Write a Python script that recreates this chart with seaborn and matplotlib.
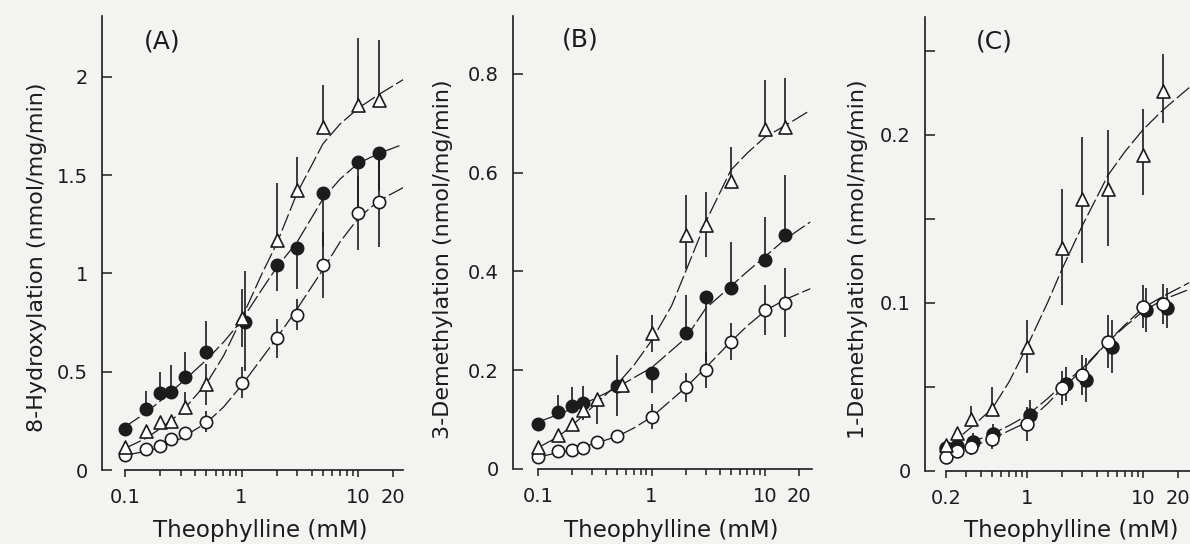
import numpy as np
import pandas as pd
import matplotlib
matplotlib.use("Agg")
import matplotlib.pyplot as plt
from matplotlib.ticker import FixedLocator, NullFormatter
import seaborn as sns

# --- DATA ---
conc = [0.1, 0.15, 0.2, 0.25, 0.33, 0.5, 1, 2, 3, 5, 10, 15]
conc_c = [0.2, 0.25, 0.33, 0.5, 1, 2, 3, 5, 10, 15]

# (A) 8-hydroxylation
a_filled_x = [0.1, 0.15, 0.2, 0.25, 0.33, 0.5, 1.08, 2, 3, 5, 10, 15]
a_filled = [0.207, 0.31, 0.39, 0.395, 0.475, 0.60, 0.754, 1.043, 1.128, 1.411, 1.569, 1.611]
a_filled_up = [0, 0.09, 0.11, 0.14, 0.125, 0.16, 0.26, 0, 0, 0, 0, 0]
a_filled_lo = [0, 0, 0, 0, 0, 0, 0.25, 0.13, 0.205, 0.275, 0.26, 0.19]
a_open = [0.076, 0.105, 0.122, 0.156, 0.186, 0.246, 0.444, 0.67, 0.79, 1.043, 1.307, 1.365]
a_open_err = [0, 0, 0, 0, 0, 0.055, 0.08, 0.1, 0.08, 0.17, 0.19, 0.23]
a_tri = [0.119, 0.198, 0.246, 0.25, 0.322, 0.44, 0.771, 1.17, 1.425, 1.747, 1.857, 1.883]
a_tri_up = [0, 0, 0, 0, 0.076, 0.10, 0.15, 0.29, 0.17, 0.21, 0.34, 0.305]
a_tri_lo = [0, 0, 0, 0, 0, 0.11, 0.145, 0, 0, 0, 0, 0]

# fitted curves
curve_x_ab = [0.1, 0.15, 0.2, 0.3, 0.5, 0.7, 1, 1.5, 2, 3, 5, 7, 10, 15, 25]
a_tri_fit = [0.11, 0.16, 0.21, 0.29, 0.44, 0.58, 0.77, 1.0, 1.15, 1.41, 1.66, 1.76, 1.84, 1.91, 1.99]
a_filled_fit = [0.22, 0.29, 0.35, 0.44, 0.56, 0.65, 0.76, 0.92, 1.03, 1.16, 1.38, 1.48, 1.56, 1.61, 1.66]
a_open_fit = [0.075, 0.095, 0.115, 0.16, 0.24, 0.32, 0.43, 0.57, 0.67, 0.82, 1.02, 1.16, 1.28, 1.37, 1.44]

# (B) 3-demethylation
b_filled_x = [0.1, 0.15, 0.2, 0.25, 0.5, 1, 2, 3, 5, 10, 15]
b_filled = [0.092, 0.116, 0.127, 0.134, 0.168, 0.195, 0.275, 0.349, 0.366, 0.424, 0.474]
b_filled_up = [0, 0.034, 0.04, 0.035, 0.063, 0, 0.077, 0, 0.094, 0.087, 0.121]
b_filled_lo = [0, 0, 0, 0, 0.06, 0.042, 0, 0.13, 0, 0, 0]
b_tri_x = [0.1, 0.15, 0.2, 0.25, 0.33, 0.55, 1, 2, 3, 5, 10, 15]
b_tri = [0.045, 0.069, 0.091, 0.119, 0.141, 0.17, 0.275, 0.474, 0.494, 0.582, 0.688, 0.692]
b_tri_up = [0, 0, 0, 0, 0, 0, 0.037, 0.08, 0.067, 0.07, 0.1, 0.1]
b_tri_lo = [0, 0, 0, 0.02, 0.05, 0, 0.038, 0.07, 0.064, 0, 0, 0]
b_open = [0.025, 0.037, 0.038, 0.043, 0.054, 0.067, 0.106, 0.165, 0.20, 0.258, 0.322, 0.337]
b_open_err = [0, 0, 0, 0, 0, 0, 0.025, 0.03, 0.037, 0.037, 0.05, 0.07]

b_tri_fit = [0.043, 0.065, 0.088, 0.125, 0.172, 0.21, 0.26, 0.33, 0.40, 0.50, 0.605, 0.64, 0.672, 0.695, 0.726]
b_filled_fit = [0.095, 0.11, 0.122, 0.14, 0.165, 0.185, 0.205, 0.24, 0.265, 0.325, 0.37, 0.40, 0.43, 0.465, 0.50]
b_open_fit = [0.024, 0.033, 0.038, 0.05, 0.066, 0.083, 0.105, 0.14, 0.165, 0.205, 0.258, 0.29, 0.32, 0.343, 0.365]

# (C) 1-demethylation
c_filled_x = [0.2, 0.25, 0.34, 0.51, 1.07, 2.15, 3.2, 5.4, 10.7, 16]
c_filled = [0.0135, 0.0149, 0.0175, 0.022, 0.0333, 0.0518, 0.054, 0.074, 0.0958, 0.0968]
c_filled_err = [0.003, 0.004, 0.005, 0.006, 0.009, 0.01, 0.013, 0.016, 0.013, 0.012]
c_open = [0.0085, 0.012, 0.0145, 0.0189, 0.028, 0.0492, 0.0571, 0.077, 0.0978, 0.0994]
c_open_err = [0.003, 0.004, 0.005, 0.006, 0.01, 0.01, 0.012, 0.016, 0.013, 0.012]
c_tri = [0.0155, 0.0224, 0.0308, 0.0367, 0.074, 0.1326, 0.1617, 0.168, 0.188, 0.2258]
c_tri_up = [0, 0, 0.008, 0.013, 0.016, 0.035, 0.037, 0.035, 0.027, 0.022]
c_tri_lo = [0, 0, 0, 0, 0.016, 0.034, 0.038, 0.034, 0.024, 0.019]

curve_x_c = [0.2, 0.25, 0.33, 0.5, 0.7, 1, 1.5, 2, 3, 5, 7, 10, 15, 25]
c_tri_fit = [0.014, 0.019, 0.026, 0.037, 0.053, 0.074, 0.10, 0.12, 0.146, 0.176, 0.19, 0.203, 0.215, 0.228]
c_filled_fit = [0.012, 0.0145, 0.017, 0.022, 0.027, 0.033, 0.043, 0.051, 0.061, 0.077, 0.086, 0.095, 0.102, 0.108]
c_open_fit = [0.009, 0.0115, 0.0145, 0.019, 0.024, 0.029, 0.04, 0.049, 0.06, 0.077, 0.087, 0.097, 0.104, 0.112]

# --- STYLE ---
sns.set_theme(style="ticks")
plt.rcParams["font.family"] = ["DejaVu Sans"]
ink = "#1c1c1c"
paper = "#f3f3f1"

W, H = 1190, 544
fig = plt.figure(figsize=(W / 100, H / 100), dpi=100, facecolor=paper)


def px_axes(left, right, y0, top):
    ax = fig.add_axes([left / W, (H - y0) / H, (right - left) / W, (y0 - top) / H])
    ax.set_facecolor(paper)
    return ax


def draw(ax, x, y, lo, hi, marker, face, size):
    ax.errorbar(x, y, yerr=[lo, hi], fmt="none", ecolor=ink, elinewidth=1.2,
                capsize=0, zorder=2)
    sns.scatterplot(x=x, y=y, ax=ax, marker=marker, s=size, color=face,
                    edgecolor=ink, linewidth=1.2, zorder=4, legend=False)


def fit(ax, x, y):
    sns.lineplot(x=x, y=y, ax=ax, color=ink, linewidth=0.9, linestyle=(0, (14, 3)),
                 estimator=None, sort=False, zorder=1)


def style_axis(ax, xlim, ylim, xmajor, xlabels, xminor, ymajor, ylabels, yminor=()):
    ax.set_xscale("log")
    ax.set_xlim(*xlim)
    ax.set_ylim(*ylim)
    ax.xaxis.set_major_locator(FixedLocator(xmajor))
    ax.set_xticklabels(xlabels)
    ax.xaxis.set_minor_locator(FixedLocator(xminor))
    ax.xaxis.set_minor_formatter(NullFormatter())
    ax.set_yticks(ymajor)
    ax.set_yticklabels(ylabels)
    ax.yaxis.set_minor_locator(FixedLocator(list(yminor)))
    for s in ["top", "right"]:
        ax.spines[s].set_visible(False)
    ax.spines["left"].set_bounds(0, ylim[1])
    ax.spines["bottom"].set_bounds(xmajor[0], xlim[1])
    for s in ["left", "bottom"]:
        ax.spines[s].set_linewidth(1.2)
        ax.spines[s].set_color(ink)
    ax.tick_params(axis="x", which="both", direction="out", color=ink, width=1.1,
                   labelsize=14, labelcolor=ink, pad=8)
    ax.tick_params(axis="x", which="major", length=5)
    ax.tick_params(axis="x", which="minor", length=4)
    ax.tick_params(axis="y", which="both", direction="in", length=7, width=1.1,
                   color=ink, labelsize=14, labelcolor=ink, pad=10)
    ax.set_xlabel("")
    ax.set_ylabel("")


minor_01 = [0.2, 0.3, 0.4, 0.5, 0.6, 0.7, 0.8, 0.9, 2, 3, 4, 5, 6, 7, 8, 9]
minor_02 = [0.3, 0.4, 0.5, 0.6, 0.7, 0.8, 0.9, 2, 3, 4, 5, 6, 7, 8, 9]

# --- PANEL A ---
axA = px_axes(102, 403, 470, 16)
for cy in (a_tri_fit, a_filled_fit, a_open_fit):
    fit(axA, curve_x_ab, cy)
draw(axA, conc, a_open, a_open_err, a_open_err, "o", "white", 78)
draw(axA, a_filled_x, a_filled, a_filled_lo, a_filled_up, "o", ink, 78)
draw(axA, conc, a_tri, a_tri_lo, a_tri_up, "^", "white", 88)
style_axis(axA, (0.0635, 24.3), (0, 2.31), [0.1, 1, 10, 20], ["0.1", "1", "10", "20"],
           minor_01, [0, 0.5, 1, 1.5, 2], ["0", "0.5", "1", "1.5", "2"])

# --- PANEL B ---
axB = px_axes(513, 812, 469, 16)
for cy in (b_tri_fit, b_filled_fit, b_open_fit):
    fit(axB, curve_x_ab, cy)
draw(axB, conc, b_open, b_open_err, b_open_err, "o", "white", 78)
draw(axB, b_filled_x, b_filled, b_filled_lo, b_filled_up, "o", ink, 78)
draw(axB, b_tri_x, b_tri, b_tri_lo, b_tri_up, "^", "white", 88)
style_axis(axB, (0.0603, 25.9), (0, 0.917), [0.1, 1, 10, 20], ["0.1", "1", "10", "20"],
           minor_01, [0, 0.2, 0.4, 0.6, 0.8], ["0", "0.2", "0.4", "0.6", "0.8"])

# --- PANEL C ---
axC = px_axes(925, 1190, 471, 17)
for cy in (c_tri_fit, c_filled_fit, c_open_fit):
    fit(axC, curve_x_c, cy)
draw(axC, c_filled_x, c_filled, c_filled_err, c_filled_err, "o", ink, 85)
draw(axC, conc_c, c_open, c_open_err, c_open_err, "o", "white", 85)
draw(axC, conc_c, c_tri, c_tri_lo, c_tri_up, "^", "white", 88)
style_axis(axC, (0.132, 25.4), (0, 0.27), [0.2, 1, 10, 20], ["0.2", "1", "10", "20"],
           minor_02, [0, 0.1, 0.2], ["0", "0.1", "0.2"], yminor=[0.05, 0.15, 0.25])

# --- TEXT ---
def ftext(x, y, s, **kw):
    fig.text(x / W, 1 - y / H, s, color=ink, ha="center", va="center", **kw)


ftext(162, 42, "(A)", fontsize=18)
ftext(580, 39, "(B)", fontsize=18)
ftext(994, 41, "(C)", fontsize=18)
for cx in (260, 671, 1071):
    ftext(cx, 531, "Theophylline (mM)", fontsize=16.5)
ftext(37, 257, "8-Hydroxylation (nmol/mg/min)", fontsize=16, rotation=90)
ftext(443, 259, "3-Demethylation (nmol/mg/min)", fontsize=16, rotation=90)
ftext(858, 259, "1-Demethylation (nmol/mg/min)", fontsize=16, rotation=90)

fig.savefig("out.png", dpi=100, facecolor=paper)
